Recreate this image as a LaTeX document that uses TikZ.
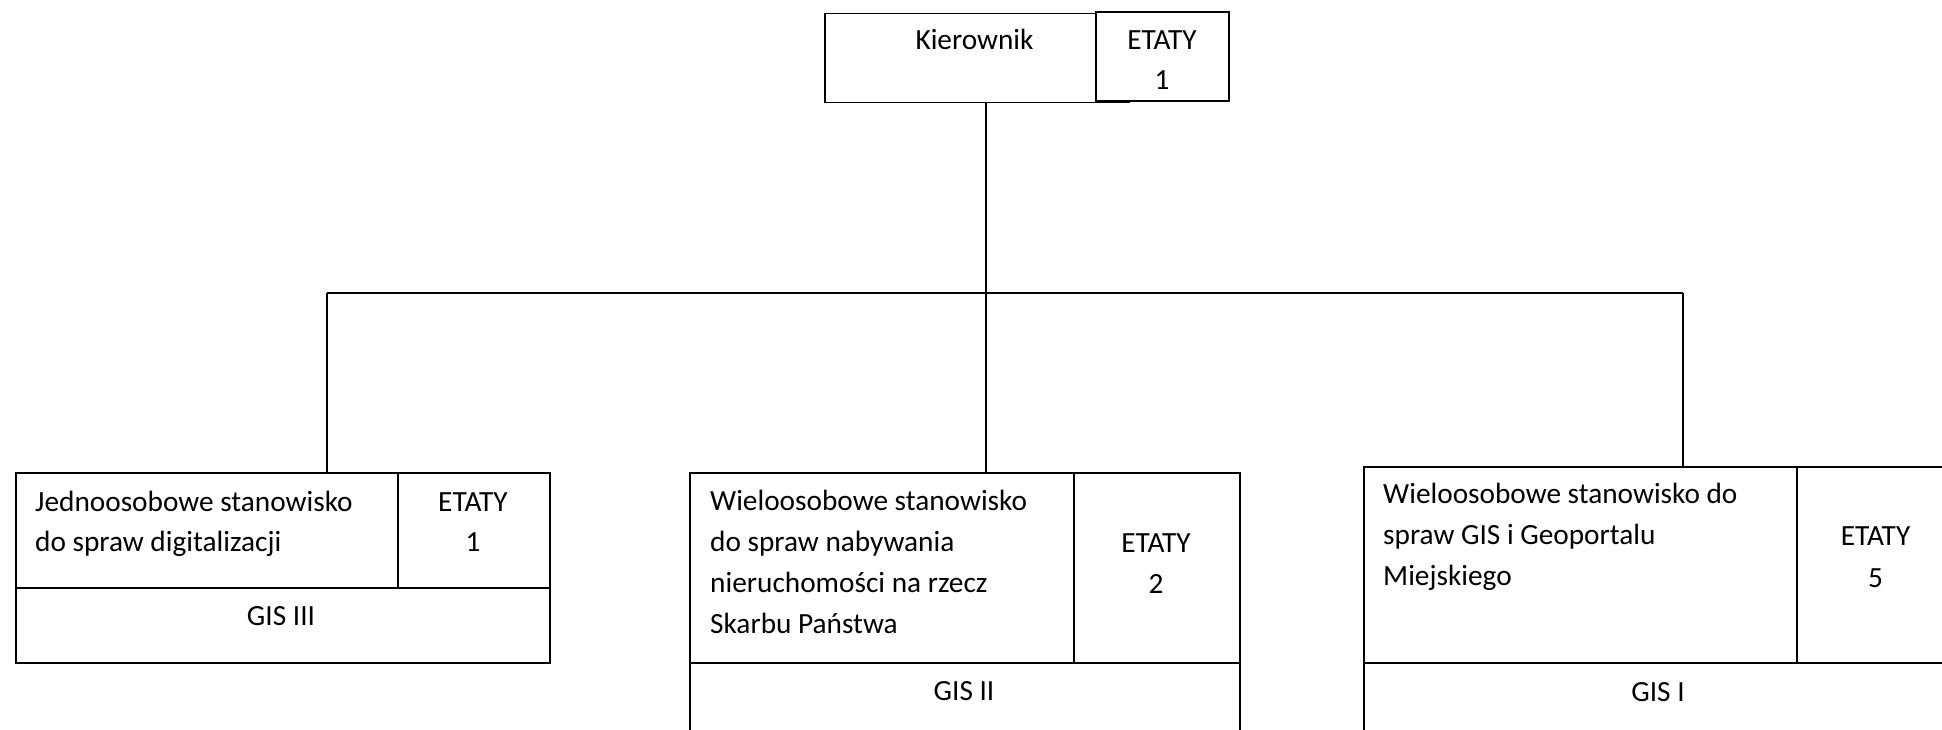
\documentclass[tikz,border=0pt]{standalone}
\usepackage{fontspec}
\setmainfont{Carlito}
\begin{document}
\begin{tikzpicture}[x=1pt,y=-1pt,
  cell/.style={draw=black,line width=1.8pt,fill=white,rectangle,inner sep=0pt,anchor=north west},
  txt/.style={inner sep=0pt,anchor=base west,font=\fontsize{29.3}{41}\selectfont},
  ctxt/.style={inner sep=0pt,anchor=base,font=\fontsize{29.3}{41}\selectfont},
  conn/.style={draw=black,line width=1.8pt}]
\useasboundingbox (0,0) rectangle (1942,730);
\clip (0,0) rectangle (1942,730);
% top
\node[cell,minimum width=304pt,minimum height=89pt] (kier) at (824,12.7) {};
\node[cell,minimum width=133pt,minimum height=89pt] (kiere) at (1095,11) {};
\node[ctxt] (kiert) at (974.5,50) {Kierownik};
\node[ctxt] (kieret) at (1162,50) {ETATY};
\node[ctxt] (kieren) at (1162,89.3) {1};
% left
\node[cell,minimum width=382pt,minimum height=114.4pt] (lmain) at (15,472.3) {};
\node[cell,minimum width=152pt,minimum height=114.4pt] (let) at (397,472.3) {};
\node[cell,minimum width=534pt,minimum height=75pt] (lgis) at (15,586.7) {};
\node[txt] (lt1) at (35,511) {Jednoosobowe stanowisko};
\node[txt] (lt2) at (35,551.7) {do spraw digitalizacji};
\node[ctxt] (letl) at (473,511) {ETATY};
\node[ctxt] (letn) at (473,551.7) {1};
\node[ctxt] (lgist) at (281,625.7) {GIS III};
% middle
\node[cell,minimum width=384pt,minimum height=189.4pt] (mmain) at (689.3,472.3) {};
\node[cell,minimum width=165.7pt,minimum height=189.4pt] (met) at (1073.3,472.3) {};
\node[cell,minimum width=549.7pt,minimum height=120pt] (mgis) at (689.3,661.7) {};
\node[txt] (mt1) at (710,510.7) {Wieloosobowe stanowisko};
\node[txt] (mt2) at (710,551.7) {do spraw nabywania};
\node[txt] (mt3) at (710,592.7) {nieruchomości na rzecz};
\node[txt] (mt4) at (710,633.3) {Skarbu Państwa};
\node[ctxt] (metl) at (1156,552) {ETATY};
\node[ctxt] (metn) at (1156,593) {2};
\node[ctxt] (mgist) at (964,700.7) {GIS II};
% right
\node[cell,minimum width=432.7pt,minimum height=196pt] (rmain) at (1363.3,466) {};
\node[cell,minimum width=159pt,minimum height=196pt] (ret) at (1796,466) {};
\node[cell,minimum width=590pt,minimum height=120pt] (rgis) at (1363.3,662) {};
\node[txt] (rt1) at (1383,503.3) {Wieloosobowe stanowisko do};
\node[txt] (rt2) at (1383,544.3) {spraw GIS i Geoportalu};
\node[txt] (rt3) at (1383,585) {Miejskiego};
\node[ctxt] (retl) at (1875.5,545) {ETATY};
\node[ctxt] (retn) at (1875.5,587.7) {5};
\node[ctxt] (rgist) at (1658,701.7) {GIS I};
% connectors
\coordinate (jl) at (326.7,293);
\coordinate (jm) at (985.7,293);
\coordinate (jr) at (1683,293);
\draw[conn] (jm |- kier.south) -- (jm |- mmain.north);
\draw[conn] (jl) -- (jr);
\draw[conn] (jl) -- (jl |- lmain.north);
\draw[conn] (jr) -- (jr |- rmain.north);
\end{tikzpicture}
\end{document}
